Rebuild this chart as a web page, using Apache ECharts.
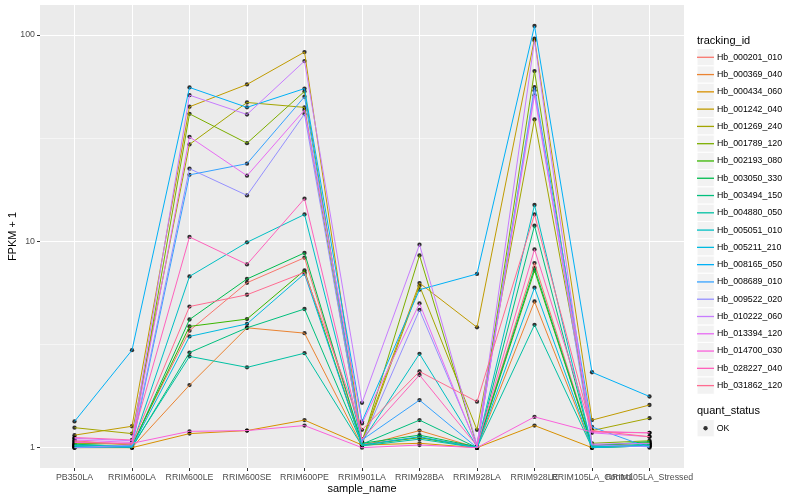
<!DOCTYPE html>
<html>
<head>
<meta charset="utf-8">
<script src="https://cdn.jsdelivr.net/npm/echarts@6/dist/echarts.min.js"></script>
<style>html,body{margin:0;padding:0;background:#fff}#c{width:800px;height:500px}</style>
</head>
<body>
<div id="c"></div>
<script>
const categories = ['PB350LA','RRIM600LA','RRIM600LE','RRIM600SE','RRIM600PE','RRIM901LA','RRIM928BA','RRIM928LA','RRIM928LE','RRIM105LA_Control','RRIM105LA_Stressed'];

const hb_000201_010 = [1.08, 1.03, 3.69, 6.30, 8.33, 1.04, 1.12, 1.01, 7.85, 1.03, 1.05];
const hb_000369_040 = [1.02, 1.00, 2.01, 3.81, 3.59, 1.02, 1.21, 1.00, 5.11, 1.00, 1.03];
const hb_000434_060 = [1.00, 1.00, 1.17, 1.21, 1.36, 1.03, 1.05, 1.00, 1.28, 1.00, 1.02];
const hb_001242_040 = [1.15, 1.27, 44.9, 57.6, 82.7, 1.08, 6.28, 3.83, 96.0, 1.36, 1.61];
const hb_001269_240 = [1.25, 1.17, 29.5, 47.1, 44.6, 1.05, 6.09, 1.22, 39.0, 1.21, 1.39];
const hb_001789_120 = [1.05, 1.04, 41.5, 29.9, 53.3, 1.06, 8.55, 1.02, 66.9, 1.05, 1.08];
const hb_002193_080 = [1.03, 1.02, 3.87, 4.20, 7.23, 1.03, 1.12, 1.00, 7.21, 1.02, 1.06];
const hb_003050_330 = [1.04, 1.01, 4.18, 6.57, 8.79, 1.05, 1.15, 1.01, 7.43, 1.02, 1.07];
const hb_003494_150 = [1.02, 1.00, 2.89, 3.81, 4.70, 1.04, 1.36, 1.00, 11.9, 1.01, 1.04];
const hb_004880_050 = [1.01, 1.01, 2.77, 2.45, 2.87, 1.02, 1.10, 1.00, 3.94, 1.00, 1.02];
const hb_005051_010 = [1.03, 1.02, 6.76, 9.89, 13.5, 1.07, 2.85, 1.01, 15.0, 1.01, 1.03];
const hb_005211_210 = [1.02, 1.01, 3.46, 3.98, 6.97, 1.03, 1.13, 1.00, 5.96, 1.00, 1.02];
const hb_008165_050 = [1.34, 2.97, 55.7, 44.6, 55.0, 1.34, 5.83, 6.95, 110.6, 2.32, 1.77];
const hb_008689_010 = [1.00, 1.01, 21.0, 23.8, 50.2, 1.09, 1.70, 1.00, 55.9, 1.26, 1.00];
const hb_009522_020 = [1.00, 1.03, 22.5, 16.7, 41.4, 1.06, 4.65, 1.02, 53.9, 1.03, 1.01];
const hb_010222_060 = [1.11, 1.08, 51.1, 41.2, 74.8, 1.65, 9.64, 1.03, 94.0, 1.04, 1.05];
const hb_013394_120 = [1.09, 1.06, 32.1, 20.8, 43.3, 1.31, 5.00, 1.01, 51.1, 1.18, 1.13];
const hb_014700_030 = [1.06, 1.05, 1.20, 1.21, 1.28, 1.00, 1.03, 1.00, 1.41, 1.19, 1.18];
const hb_028227_040 = [1.12, 1.09, 10.5, 7.73, 16.1, 1.10, 2.25, 1.02, 9.14, 1.20, 1.18];
const hb_031862_120 = [1.07, 1.04, 4.83, 5.51, 7.07, 1.22, 2.34, 1.67, 13.5, 1.21, 1.13];

const seriesNames = ['Hb_000201_010','Hb_000369_040','Hb_000434_060','Hb_001242_040','Hb_001269_240','Hb_001789_120','Hb_002193_080','Hb_003050_330','Hb_003494_150','Hb_004880_050','Hb_005051_010','Hb_005211_210','Hb_008165_050','Hb_008689_010','Hb_009522_020','Hb_010222_060','Hb_013394_120','Hb_014700_030','Hb_028227_040','Hb_031862_120'];
const seriesValues = [hb_000201_010,hb_000369_040,hb_000434_060,hb_001242_040,hb_001269_240,hb_001789_120,hb_002193_080,hb_003050_330,hb_003494_150,hb_004880_050,hb_005051_010,hb_005211_210,hb_008165_050,hb_008689_010,hb_009522_020,hb_010222_060,hb_013394_120,hb_014700_030,hb_028227_040,hb_031862_120];
const colors = ['#F8766D','#EA8331','#D89000','#C09B00','#A3A500','#7CAE00','#39B600','#00BB4E','#00BF7D','#00C1A3','#00BFC4','#00BAE0','#00B0F6','#35A2FF','#9590FF','#C77CFF','#E76BF3','#FA62DB','#FF62BC','#FF6C91'];

const yMajorBreaks = [1, 10, 100];
const yMinorBreaks = [3.1623, 31.623];
// category positions, split in two groups so overlapping labels are all kept
const xBreaksA = [0, 1, 2, 3, 4, 5, 6, 7, 8, 10];
const xBreaksB = [9];

const FONT = 'Liberation Sans, Arial, Helvetica, sans-serif';
const KEY = 17.28;

const lineSeries = seriesNames.map((name, k) => ({
  name: name,
  type: 'line',
  data: seriesValues[k].map((v, i) => [i, v]),
  showSymbol: false,
  symbol: 'none',
  color: colors[k],
  itemStyle: { color: colors[k] },
  lineStyle: { color: colors[k], width: 1 },
  emphasis: { disabled: true },
  animation: false
}));

const pointData = [];
seriesValues.forEach(arr => arr.forEach((v, i) => pointData.push([i, v])));

const pointSeries = {
  name: 'OK',
  type: 'scatter',
  data: pointData,
  symbol: 'circle',
  symbolSize: 4.3,
  itemStyle: { color: '#000' },
  emphasis: { disabled: true },
  animation: false
};

const keyRects = [];
for (let i = 0; i < seriesNames.length; i++) {
  keyRects.push({ type: 'rect', z: -1, shape: { x: 697, y: 48.65 + KEY * i, width: KEY, height: KEY }, style: { fill: '#F2F2F2', stroke: '#fff', lineWidth: 1 } });
}
keyRects.push({ type: 'rect', z: -1, shape: { x: 697, y: 419.6, width: KEY, height: KEY }, style: { fill: '#F2F2F2', stroke: '#fff', lineWidth: 1 } });

function xAxisDef(breaks, withSplit) {
  return {
    type: 'value',
    min: -0.6,
    max: 10.6,
    position: 'bottom',
    axisLine: { show: false, onZero: false },
    axisTick: { show: true, length: 3, lineStyle: { color: '#333', width: 1 }, customValues: breaks },
    axisLabel: { customValues: breaks, formatter: v => categories[Math.round(v)], color: '#4D4D4D', fontSize: 8.8, fontFamily: FONT, margin: 5, hideOverlap: false, showMinLabel: true, showMaxLabel: true },
    splitLine: { show: true, lineStyle: { color: '#fff', width: 1 } }
  };
}

const chart = echarts.init(document.getElementById('c'), null, { renderer: 'canvas' });
chart.setOption({
  animation: false,
  textStyle: { fontFamily: FONT },
  grid: { left: 40, right: 116, top: 5, bottom: 32, show: true, backgroundColor: '#EBEBEB', borderWidth: 0 },
  xAxis: [xAxisDef(xBreaksA), xAxisDef(xBreaksB)],
  yAxis: [{
    type: 'log',
    logBase: 10,
    min: 0.797,
    max: 139.8,
    axisLine: { show: false, onZero: false },
    axisTick: { show: true, length: 3, lineStyle: { color: '#333', width: 1 }, customValues: yMajorBreaks },
    axisLabel: { customValues: yMajorBreaks, color: '#4D4D4D', fontSize: 8.8, fontFamily: FONT, margin: 5, showMinLabel: true, showMaxLabel: true },
    splitLine: { show: true, lineStyle: { color: '#fff', width: 1 } }
  }, {
    type: 'log',
    logBase: 10,
    min: 0.797,
    max: 139.8,
    position: 'left',
    axisLine: { show: false, onZero: false },
    axisTick: { show: false, customValues: yMinorBreaks },
    axisLabel: { show: false, customValues: yMinorBreaks },
    splitLine: { show: true, lineStyle: { color: '#fff', width: 0.5 } }
  }],
  legend: [{
    data: seriesNames,
    orient: 'vertical',
    left: 697,
    top: 48.65,
    padding: 0,
    itemGap: 0,
    itemWidth: 17,
    itemHeight: KEY,
    icon: 'path://M0,0H17V1.3H0Z',
    symbolKeepAspect: true,
    selectedMode: false,
    itemStyle: { borderWidth: 0 },
    textStyle: { color: '#000', fontSize: 8.8, fontFamily: FONT, lineHeight: KEY, padding: [0, 0, 0, -2] }
  }, {
    data: ['OK'],
    orient: 'vertical',
    left: 703.4,
    top: 419.6,
    padding: 0,
    itemWidth: 4.3,
    itemHeight: 4.3,
    icon: 'circle',
    selectedMode: false,
    textStyle: { color: '#000', fontSize: 8.8, fontFamily: FONT, lineHeight: KEY, padding: [0, 0, 0, 4] }
  }],
  graphic: keyRects.concat([
    { type: 'text', x: 697, y: 41, style: { text: 'tracking_id', fill: '#000', fontSize: 11, fontFamily: FONT, align: 'left', verticalAlign: 'middle' } },
    { type: 'text', x: 697, y: 411, style: { text: 'quant_status', fill: '#000', fontSize: 11, fontFamily: FONT, align: 'left', verticalAlign: 'middle' } },
    { type: 'text', x: 362, y: 489, style: { text: 'sample_name', fill: '#000', fontSize: 11, fontFamily: FONT, align: 'center', verticalAlign: 'middle' } },
    { type: 'text', x: 13, y: 236.5, rotation: Math.PI / 2, style: { text: 'FPKM + 1', fill: '#000', fontSize: 11, fontFamily: FONT, align: 'center', verticalAlign: 'middle' } }
  ]),
  series: lineSeries.concat([pointSeries])
});
</script>
</body>
</html>
